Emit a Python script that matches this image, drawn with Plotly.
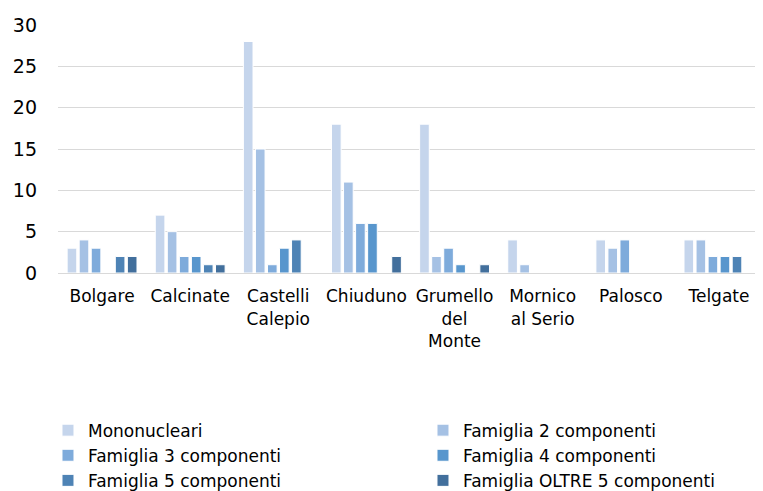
import plotly.graph_objects as go

categories = ["Bolgare", "Calcinate", "Castelli<br>Calepio", "Chiuduno", "Grumello<br>del<br>Monte",
              "Mornico<br>al Serio", "Palosco", "Telgate"]
series_names = ["Mononucleari", "Famiglia 2 componenti", "Famiglia 3 componenti",
                "Famiglia 4 componenti", "Famiglia 5 componenti", "Famiglia OLTRE 5 componenti"]
mononucleari = [3, 7, 28, 18, 18, 4, 4, 4]
fam2 = [4, 5, 15, 11, 2, 1, 3, 4]
fam3 = [3, 2, 1, 6, 3, 0, 4, 2]
fam4 = [0, 2, 3, 6, 1, 0, 0, 2]
fam5 = [2, 1, 4, 0, 0, 0, 0, 2]
fam_oltre5 = [2, 1, 0, 2, 1, 0, 0, 0]
values = [mononucleari, fam2, fam3, fam4, fam5, fam_oltre5]
colors = ["#c5d5ec", "#a5c1e4", "#7eabdb", "#5896cd", "#4e83b5", "#426f9c"]
y_ticks = [0, 5, 10, 15, 20, 25, 30]

font = "Verdana, DejaVu Sans, sans-serif"
fig = go.Figure()
for name, vals, col in zip(series_names, values, colors):
    fig.add_trace(go.Bar(x=categories, y=vals, name=name,
                         marker=dict(color=col, line=dict(color="white", width=1))))

fig.update_layout(
    width=755, height=483,
    margin=dict(l=50, r=0, t=17, b=218, autoexpand=False),
    paper_bgcolor="white", plot_bgcolor="white",
    barmode="group", bargap=0.18, bargroupgap=0.2,
    font=dict(family=font, size=17, color="#000000"),
    showlegend=True,
    legend=dict(orientation="h", x=-0.0142, xanchor="left",
                y=-0.563, yanchor="top",
                entrywidth=330, entrywidthmode="pixels", itemwidth=30,
                font=dict(size=17), tracegroupgap=0, traceorder="normal"),
    xaxis=dict(showline=True, linecolor="#d9d9d9", linewidth=1, ticks="",
               tickfont=dict(size=17), tickangle=0, automargin=False,
               ticklabelstandoff=8),
    yaxis=dict(range=[0, 30], tickvals=y_ticks, showgrid=True, gridcolor="#d9d9d9",
               gridwidth=1, zeroline=False, showline=False, ticks="",
               tickfont=dict(size=19), ticklabelstandoff=20, automargin=False),
)
fig.write_html("out.html")
